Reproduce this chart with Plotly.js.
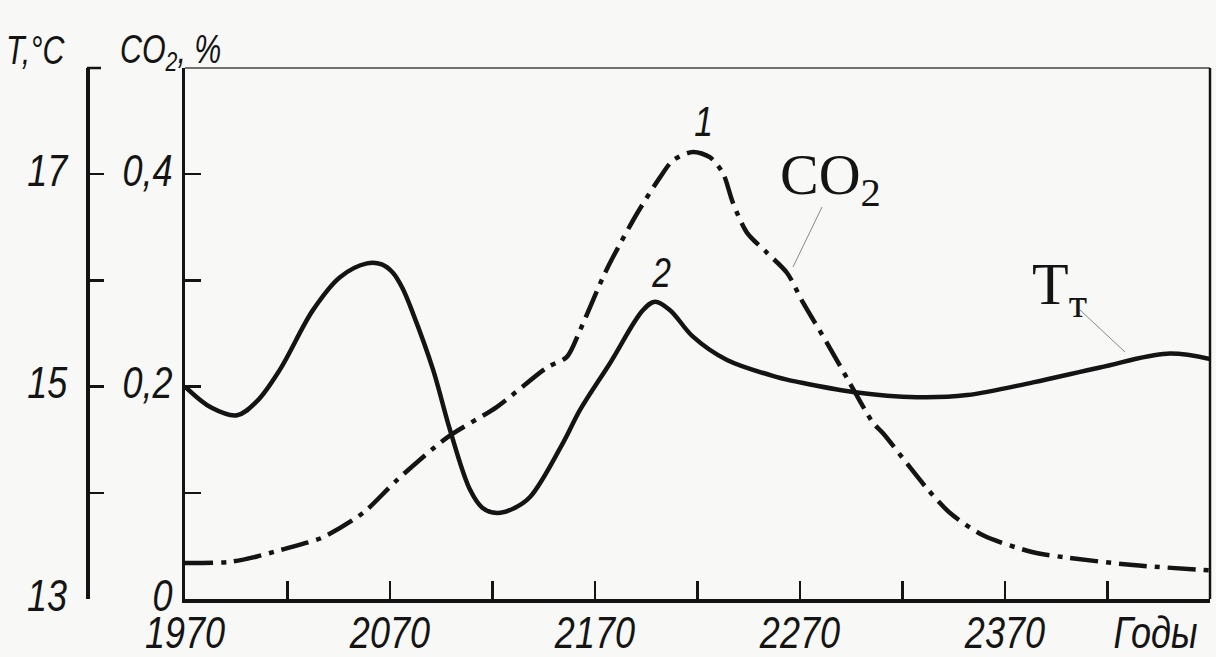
<!DOCTYPE html>
<html><head><meta charset="utf-8">
<script src="https://cdn.plot.ly/plotly-3.0.1.min.js"></script>
<style>html,body{margin:0;padding:0;background:#f8f8f6}</style>
</head><body>
<div id="chart" style="width:1216px;height:657px"></div>
<script>
// ---- data ----
const yearsT = [1970,1983,1995.4,2005,2016.3,2032.4,2045.6,2058.8,2066,2071.5,2076,2081.2,2091,2099.3,2109,2115,2122.2,2130,2138.3,2154.4,2162.7,2177.3,2193.4,2199.3,2206.6,2217.8,2234.4,2258.8,2270,2295.9,2327,2351.5,2383.7,2416.3,2449,2470];
const tempT  = [15.0,14.80,14.73,14.86,15.16,15.72,16.03,16.16,16.15,16.07,15.93,15.69,15.16,14.59,14.03,13.86,13.81,13.85,13.96,14.47,14.78,15.22,15.72,15.80,15.72,15.47,15.25,15.09,15.04,14.95,14.90,14.92,15.04,15.18,15.31,15.26];
const yearsCO2 = [1970,1992,2005.1,2016.3,2029.5,2037.3,2056.8,2073.4,2097.8,2122.2,2146.6,2156.3,2162.7,2173.9,2178.8,2190.5,2201.7,2208,2217.8,2226,2232.4,2237.3,2244.1,2253.9,2263.7,2271.5,2283.2,2294.4,2305.6,2310.5,2332,2343.2,2359.3,2383.7,2400.2,2432.4,2470];
const co2 = [0.034,0.035,0.040,0.046,0.053,0.058,0.081,0.112,0.152,0.181,0.218,0.228,0.253,0.303,0.322,0.363,0.397,0.413,0.421,0.416,0.401,0.373,0.345,0.326,0.307,0.279,0.241,0.203,0.166,0.156,0.104,0.081,0.060,0.044,0.039,0.032,0.027];
const xTickVals = [1970,2070,2170,2270,2370,2420];
const xTickText = ['1970','2070','2170','2270','2370','Годы'];
const co2TickVals = [0,0.2,0.4];
const co2TickText = ['0','0,2','0,4'];
const tTickVals = [13,15,17];
const tTickText = ['13','15','17'];

// ---- layout helpers ----
const W=1216,H=657, ML=0, MR=6, MT=68, MB=58;
const PW=W-ML-MR, PH=H-MT-MB;
const px = v => (v-ML)/PW;
const py = v => (H-MB-v)/PH;
const ink = '#141414';
const narrow = '"Liberation Sans", Arial, sans-serif';
const serif = '"Liberation Serif", "DejaVu Serif", serif';
const tickFont = {family: narrow, size: 45, color: ink, style: 'italic'};

const traces = [
  {x: yearsT, y: tempT, yaxis: 'y2', mode: 'lines', line: {color: ink, width: 4.5, shape: 'spline', smoothing: 1}, hoverinfo: 'skip'},
  {x: yearsCO2, y: co2, yaxis: 'y', mode: 'lines', line: {color: ink, width: 4.5, shape: 'spline', smoothing: 0.8, dash: '28px,8px,5px,8px'}, hoverinfo: 'skip'}
];

const layout = {
  width: W, height: H, showlegend: false,
  margin: {l: ML, r: MR, t: MT, b: MB, autoexpand: false},
  paper_bgcolor: '#f8f8f6', plot_bgcolor: '#f8f8f6',
  xaxis: {domain: [px(185), 1], range: [1970, 2470], tickvals: xTickVals, ticktext: xTickText, tickangle: 0,
    ticks: 'inside', ticklen: 18, tickwidth: 2.5, tickcolor: ink, showline: true, linewidth: 3.5, linecolor: ink,
    minor: {tick0: 1970, dtick: 50, ticks: 'inside', ticklen: 18, tickwidth: 2.5, tickcolor: ink, showgrid: false},
    showgrid: false, zeroline: false, tickfont: tickFont, ticklabelstandoff: -8, fixedrange: true},
  yaxis: {range: [0, 0.5], tickvals: co2TickVals, ticktext: co2TickText, ticks: 'inside', ticklen: 16, tickwidth: 2.5,
    tickcolor: ink, showline: true, linewidth: 3.5, linecolor: ink, showgrid: false, zeroline: false,
    minor: {tick0: 0, dtick: 0.1, ticks: 'inside', ticklen: 16, tickwidth: 2.5, tickcolor: ink, showgrid: false},
    tickfont: tickFont, anchor: 'x', ticklabelstandoff: 0, fixedrange: true},
  yaxis2: {range: [13, 18], tickvals: tTickVals, ticktext: tTickText, ticks: 'inside', ticklen: 14, tickwidth: 2.5,
    tickcolor: ink, showline: true, linewidth: 3.5, linecolor: ink, showgrid: false, zeroline: false,
    minor: {tick0: 13, dtick: 1, ticks: 'inside', ticklen: 14, tickwidth: 2.5, tickcolor: ink, showgrid: false},
    tickfont: tickFont, overlaying: 'y', anchor: 'free', position: px(87), side: 'left', ticklabelstandoff: 10, fixedrange: true},
  shapes: [
    {type: 'line', xref: 'paper', yref: 'paper', x0: px(185), x1: 1, y0: 1, y1: 1, line: {color: '#444', width: 1.5}},
    {type: 'line', xref: 'paper', yref: 'paper', x0: 1, x1: 1, y0: 0, y1: 1, line: {color: ink, width: 2.5}},
    {type: 'line', xref: 'paper', yref: 'paper', x0: px(87), x1: px(101), y0: 1, y1: 1, line: {color: ink, width: 2.5}},
    {type: 'line', xref: 'paper', yref: 'paper', x0: px(822), x1: px(793), y0: py(207), y1: py(267), line: {color: '#888', width: 1}},
    {type: 'line', xref: 'paper', yref: 'paper', x0: px(1080), x1: px(1125), y0: py(310), y1: py(352), line: {color: '#888', width: 1}}
  ],
  annotations: [
    {text: 'T,°C', xref: 'paper', yref: 'paper', x: px(4), y: py(50), xanchor: 'left', yanchor: 'middle', showarrow: false,
      font: {family: narrow, size: 40, color: ink, style: 'italic'}},
    {text: 'CO<sub>2</sub>, %', xref: 'paper', yref: 'paper', x: px(118), y: py(52), xanchor: 'left', yanchor: 'middle', showarrow: false,
      font: {family: narrow, size: 40, color: ink, style: 'italic'}},
    {text: '1', xref: 'paper', yref: 'paper', x: px(703), y: py(122), xanchor: 'center', yanchor: 'middle', showarrow: false,
      font: {family: narrow, size: 42, color: ink, style: 'italic'}},
    {text: '2', xref: 'paper', yref: 'paper', x: px(661), y: py(272), xanchor: 'center', yanchor: 'middle', showarrow: false,
      font: {family: narrow, size: 42, color: ink, style: 'italic'}},
    {text: 'CO<sub>2</sub>', xref: 'paper', yref: 'paper', x: px(778), y: py(178), xanchor: 'left', yanchor: 'middle', showarrow: false,
      font: {family: serif, size: 58, color: ink}},
    {text: 'T<sub>т</sub>', xref: 'paper', yref: 'paper', x: px(1030), y: py(288), xanchor: 'left', yanchor: 'middle', showarrow: false,
      font: {family: serif, size: 60, color: ink}}
  ]
};

// condense the technical-drawing lettering horizontally (text stays real text)
function condense(el, sx, mode, dy, dx) {
  const bb = el.getBBox();
  if (!bb.width) return;
  let ax;
  if (mode === 'left') ax = bb.x;
  else if (mode === 'right') ax = bb.x + bb.width;
  else ax = bb.x + bb.width / 2;
  const prev = el.getAttribute('transform') || '';
  el.setAttribute('transform', prev + ` translate(${ax + (dx || 0)},${dy || 0}) scale(${sx},1) translate(${-ax},0)`);
}

Plotly.newPlot('chart', traces, layout, {staticPlot: true, displayModeBar: false}).then(() => {
  const SX = 0.8;
  document.querySelectorAll('.xtick text').forEach(t => {
    if (t.textContent === 'Годы') condense(t, SX, 'center', 0, 48);
    else condense(t, SX, 'center');
  });
  document.querySelectorAll('.ytick text, .y2tick text').forEach(t => condense(t, SX, 'right', -4));
  const ann = document.querySelectorAll('.annotation');
  ann.forEach(a => {
    const i = +a.getAttribute('data-index');
    const t = a.querySelector('text');
    if (!t) return;
    if (i <= 1) condense(t, 0.76, 'left');
    else if (i <= 3) condense(t, SX, 'center');
  });
});
</script>
</body></html>
